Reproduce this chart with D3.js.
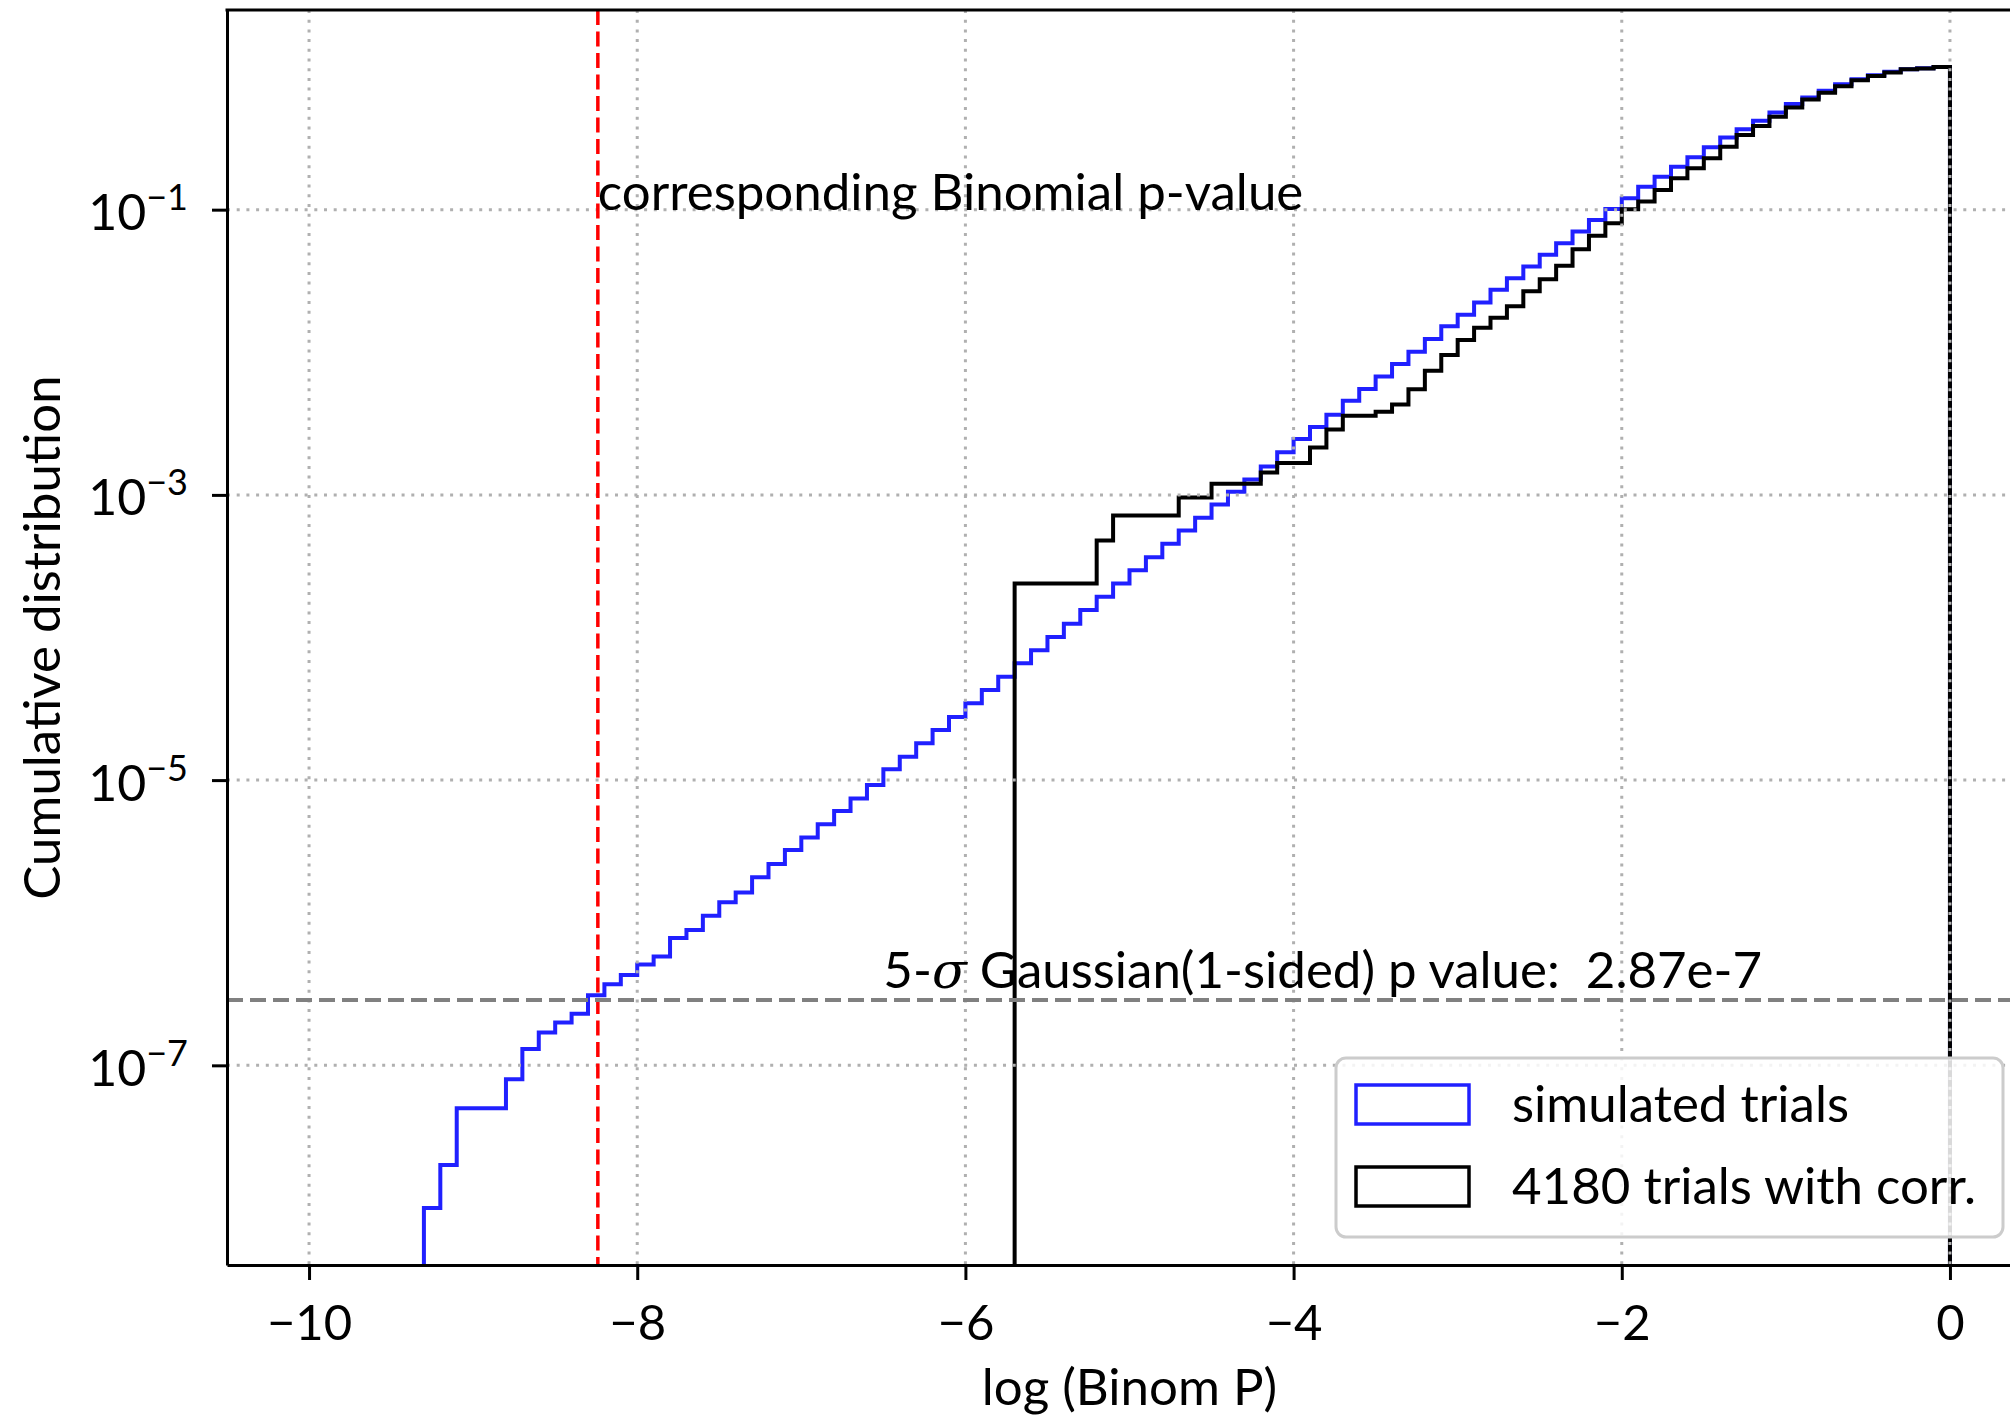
<!DOCTYPE html>
<html>
<head>
<meta charset="utf-8">
<title>Cumulative distribution of binomial p values</title>
<script src="https://cdn.jsdelivr.net/npm/d3@7"></script>
<style>
  body { margin: 0; background: #ffffff; }
  text { font-family: Lato, "DejaVu Sans", sans-serif; fill: #000000; }
</style>
</head>
<body>
<script>
// Width and Height
var w = 2010;
var h = 1420;

// plot area (pixels)
var plotLeft = 227, plotRight = 2032, plotTop = 10, plotBottom = 1265;

// histogram bins: log10 of binomial P, width 0.1
var binWidth = 0.1;
var simStart = -9.3;
var corrStart = -5.7;

// simulated trials, cumulative fraction per bin (from -9.3 up to 0)
var simValues = [
  1.0e-8, 2.0e-8, 5.0e-8, 5.0e-8, 5.0e-8, 8.0e-8, 1.3e-7, 1.7e-7, 2.0e-7, 2.3e-7,
  3.1e-7, 3.7e-7, 4.3e-7, 5.1e-7, 5.8e-7, 7.8e-7, 8.9e-7, 1.12e-6, 1.39e-6, 1.63e-6,
  2.08e-6, 2.58e-6, 3.24e-6, 3.96e-6, 4.91e-6, 6.08e-6, 7.43e-6, 9.24e-6, 1.19e-5, 1.46e-5,
  1.81e-5, 2.25e-5, 2.77e-5, 3.46e-5, 4.29e-5, 5.31e-5, 6.59e-5, 8.13e-5, 1.01e-4, 1.25e-4,
  1.56e-4, 1.93e-4, 2.39e-4, 2.96e-4, 3.66e-4, 4.54e-4, 5.62e-4, 6.90e-4, 8.55e-4, 1.05e-3,
  1.28e-3, 1.58e-3, 1.99e-3, 2.47e-3, 2.99e-3, 3.65e-3, 4.57e-3, 5.52e-3, 6.76e-3, 8.26e-3,
  1.01e-2, 1.24e-2, 1.52e-2, 1.83e-2, 2.23e-2, 2.74e-2, 3.31e-2, 3.99e-2, 4.82e-2, 5.82e-2,
  7.02e-2, 8.47e-2, 0.101, 0.120, 0.145, 0.170, 0.200, 0.233, 0.274, 0.321,
  0.366, 0.420, 0.481, 0.550, 0.612, 0.681, 0.759, 0.822, 0.877, 0.925,
  0.966, 0.980, 1.0
];

// 4180 trials with correlation, cumulative counts per bin (from -5.7 up to 0)
var corrTotal = 4180;
var corrCounts = [
  1, 1, 1, 1, 1, 2, 3, 3, 3, 3,
  4, 4, 5, 5, 5, 6, 7, 7, 9, 12,
  15, 15, 16, 18, 23, 31, 40, 51, 62, 73,
  88, 112, 136, 169, 221, 274, 336, 421, 476, 574,
  694, 815, 958, 1154, 1393, 1611, 1871, 2179, 2478, 2756,
  3070, 3383, 3624, 3829, 4038, 4080, 4180
];

var xTicks = [-10, -8, -6, -4, -2, 0];
var yTicks = [1e-1, 1e-3, 1e-5, 1e-7];
var yTickExp = ["\u22121", "\u22123", "\u22125", "\u22127"];

var binomLogP = -8.24;      // red line
var gaussP = 2.87e-7;       // grey line
var gaussLabelX = -6.5, gaussLabelY = 3.5e-7;

var legendLabels = ["simulated trials", "4180 trials with corr."];
var legendColors = ["#2020ff", "#000000"];

var x = d3.scaleLinear().domain([-10.5, 0.5]).range([plotLeft, plotRight]);
var y = d3.scaleLog().domain([Math.pow(10, -8.4), Math.pow(10, 0.4)]).range([plotBottom, plotTop]);

var svg = d3.select("body")
            .append("svg")
            .attr("width", w)
            .attr("height", h);

svg.append("rect").attr("width", w).attr("height", h).attr("fill", "#ffffff");

svg.append("clipPath")
   .attr("id", "plotclip")
   .append("rect")
   .attr("x", plotLeft).attr("y", plotTop)
   .attr("width", plotRight - plotLeft).attr("height", plotBottom - plotTop);

var plot = svg.append("g").attr("clip-path", "url(#plotclip)");

// step outline of a cumulative histogram
function stepPoints(start, values) {
    var pts = [[start, 1e-12]];
    values.forEach(function(v, i) {
        pts.push([start + i * binWidth, v]);
    });
    var end = start + values.length * binWidth;
    pts.push([end, values[values.length - 1]]);
    pts.push([end, 1e-12]);
    return pts;
}

var step = d3.line()
    .x(function(d) { return x(d[0]); })
    .y(function(d) { return y(d[1]); })
    .curve(d3.curveStepAfter);

plot.append("path")
    .attr("d", step(stepPoints(simStart, simValues)))
    .attr("fill", "none")
    .attr("stroke", legendColors[0])
    .attr("stroke-width", 4)
    .attr("stroke-linejoin", "miter");

plot.append("path")
    .attr("d", step(stepPoints(corrStart, corrCounts.map(function(c) { return c / corrTotal; }))))
    .attr("fill", "none")
    .attr("stroke", legendColors[1])
    .attr("stroke-width", 4)
    .attr("stroke-linejoin", "miter");

// dotted grid (drawn over the curves, as in the original)
plot.selectAll(".vgrid")
    .data(xTicks)
    .enter()
    .append("line")
    .attr("x1", function(d) { return x(d); })
    .attr("x2", function(d) { return x(d); })
    .attr("y1", plotTop).attr("y2", plotBottom)
    .attr("stroke", "#b0b0b0")
    .attr("stroke-width", 3)
    .attr("stroke-dasharray", "3,6.7");

plot.selectAll(".hgrid")
    .data(yTicks)
    .enter()
    .append("line")
    .attr("x1", plotLeft).attr("x2", plotRight)
    .attr("y1", function(d) { return y(d); })
    .attr("y2", function(d) { return y(d); })
    .attr("stroke", "#b0b0b0")
    .attr("stroke-width", 3)
    .attr("stroke-dasharray", "3,6.7");

// reference lines
plot.append("line")
    .attr("x1", x(binomLogP)).attr("x2", x(binomLogP))
    .attr("y1", plotTop).attr("y2", plotBottom)
    .attr("stroke", "#ff0000")
    .attr("stroke-width", 3.5)
    .attr("stroke-dasharray", "15,6.5");

plot.append("line")
    .attr("x1", plotLeft).attr("x2", plotRight)
    .attr("y1", y(gaussP)).attr("y2", y(gaussP))
    .attr("stroke", "#808080")
    .attr("stroke-width", 4)
    .attr("stroke-dasharray", "16,7");

// annotations
svg.append("text")
   .attr("x", x(binomLogP))
   .attr("y", y(0.1))
   .attr("font-size", "51px")
   .text("corresponding Binomial p-value");

var gl = svg.append("text")
   .attr("x", x(gaussLabelX))
   .attr("y", y(gaussLabelY))
   .attr("font-size", "51px");
gl.append("tspan").text("5-");
gl.append("tspan")
  .style("font-family", "'DejaVu Serif', serif")
  .style("font-style", "italic")
  .text("\u03c3");
gl.append("tspan").text(" Gaussian(1-sided) p value:\u00a0 2.87e-7");

// axes
var xAxis = d3.axisBottom(x)
    .tickValues(xTicks)
    .tickSize(15)
    .tickSizeOuter(0)
    .tickFormat(function(d) { return d < 0 ? "\u2212" + Math.abs(d) : String(d); });

var gx = svg.append("g")
    .attr("transform", "translate(0," + plotBottom + ")")
    .call(xAxis);

gx.selectAll("text")
  .attr("y", 75)
  .attr("dy", null)
  .attr("font-size", "49px")
  .attr("font-family", null);

var yAxis = d3.axisLeft(y)
    .tickValues(yTicks)
    .tickSize(15)
    .tickSizeOuter(0)
    .tickFormat("");

var gy = svg.append("g")
    .attr("transform", "translate(" + plotLeft + ",0)")
    .call(yAxis);

gy.selectAll(".tick text")
  .attr("x", -39)
  .attr("y", 20)
  .attr("dy", null)
  .attr("font-size", "50px")
  .attr("font-family", null)
  .each(function(d, i) {
      var t = d3.select(this);
      t.append("tspan").text("10");
      t.append("tspan").attr("dy", -20).attr("font-size", "36px").text(yTickExp[i]);
  });

svg.selectAll(".domain, .tick line")
   .attr("stroke", "#000000")
   .attr("stroke-width", 3);

// top and right spines
svg.append("line")
   .attr("x1", plotLeft - 1.5).attr("x2", plotRight)
   .attr("y1", plotTop).attr("y2", plotTop)
   .attr("stroke", "#000000").attr("stroke-width", 3);
svg.append("line")
   .attr("x1", plotRight).attr("x2", plotRight)
   .attr("y1", plotTop).attr("y2", plotBottom)
   .attr("stroke", "#000000").attr("stroke-width", 3);

// axis labels
svg.append("text")
   .attr("x", (plotLeft + plotRight) / 2)
   .attr("y", 1405)
   .attr("text-anchor", "middle")
   .attr("font-size", "51px")
   .text("log (Binom P)");

svg.append("text")
   .attr("transform", "translate(60," + (plotTop + plotBottom) / 2 + ") rotate(-90)")
   .attr("text-anchor", "middle")
   .attr("font-size", "51px")
   .text("Cumulative distribution");

// legend
var legend = svg.append("g").attr("transform", "translate(1336,1058)");

legend.append("rect")
      .attr("x", 0).attr("y", 0)
      .attr("width", 667).attr("height", 179)
      .attr("rx", 10).attr("ry", 10)
      .attr("fill", "#ffffff").attr("fill-opacity", 0.85)
      .attr("stroke", "#cccccc").attr("stroke-width", 3);

var items = legend.selectAll(".item")
      .data(legendLabels)
      .enter()
      .append("g")
      .attr("transform", function(d, i) { return "translate(0," + (i * 82) + ")"; });

items.append("rect")
     .attr("x", 20).attr("y", 27)
     .attr("width", 113).attr("height", 39)
     .attr("fill", "#ffffff")
     .attr("stroke", function(d, i) { return legendColors[i]; })
     .attr("stroke-width", 3.5);

items.append("text")
     .attr("x", 176).attr("y", 64)
     .attr("font-size", "51px")
     .text(function(d) { return d; });
</script>
</body>
</html>
